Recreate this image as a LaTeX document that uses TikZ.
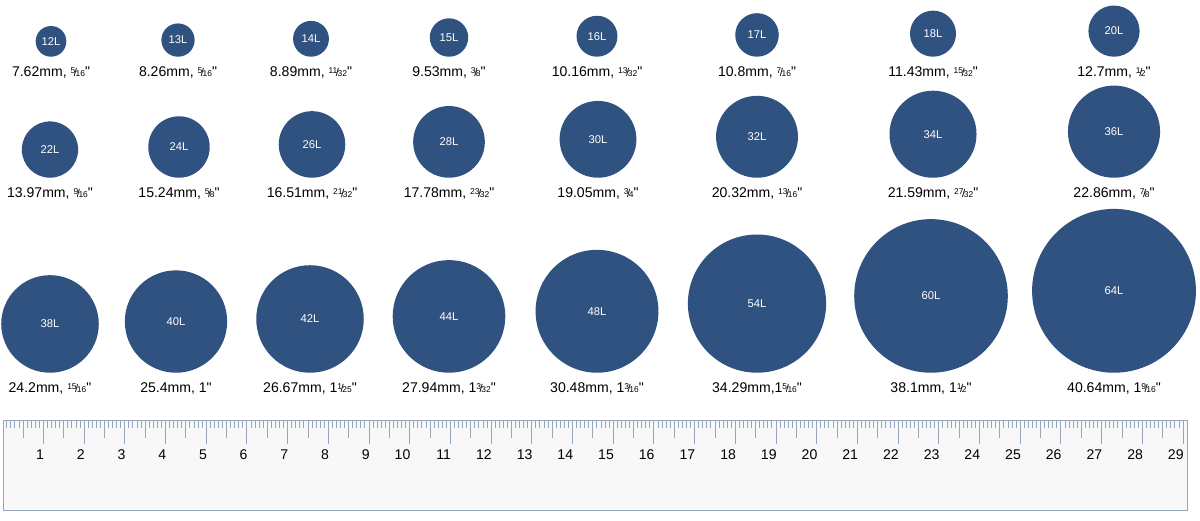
\documentclass[tikz,border=0pt]{standalone}
\usepackage{fontspec}
\setmainfont{Liberation Sans}
\usepackage{tikz}
\usetikzlibrary{positioning}
\usepackage{xcolor}
\definecolor{plugblue}{RGB}{48,82,128}
\definecolor{rulerline}{RGB}{150,166,188}
\definecolor{rulerfill}{RGB}{248,248,248}
\tikzstyle{plug} = [circle, fill=plugblue, text=white, inner sep=0pt, font=\fontsize{8}{9}\selectfont]
\tikzstyle{sizelabel} = [inner sep=1pt, font=\fontsize{10}{12}\selectfont]
\tikzstyle{tick} = [rulerline, line width=0.5pt]
\newcommand{\frc}[2]{\raisebox{0.5ex}{\fontsize{6}{6}\selectfont #1}\kern-.1em{\fontsize{8}{8}\selectfont /}\kern-.1em{\fontsize{6}{6}\selectfont #2}\textquotedbl}

\begin{document}
\begin{tikzpicture}[x=0.025cm, y=-0.025cm]
\fill[white] (0,0) rectangle (1200,520);
\useasboundingbox (0,0) rectangle (1200,520);
% top row of plugs
\foreach \x/\d/\g/\t in {51/7.62/12/{7.62mm, \frc{5}{16}}, 178/8.26/13/{8.26mm, \frc{5}{16}},
    311/8.89/14/{8.89mm, \frc{11}{32}}, 449/9.53/15/{9.53mm, \frc{3}{8}},
    597/10.16/16/{10.16mm, \frc{13}{32}}, 757/10.8/17/{10.8mm, \frc{7}{16}},
    933/11.43/18/{11.43mm, \frc{15}{32}}, 1114/12.7/20/{12.7mm, \frc{1}{2}}}
{
  \node[plug, minimum size=\d*1.0075mm, anchor=south] (p\g) at (\x,57) {\g L};
  \node[sizelabel, below=6pt of p\g] (l\g) {\t};
}
% middle row
\foreach \x/\d/\g/\t in {50/13.97/22/{13.97mm, \frc{9}{16}}, 179/15.24/24/{15.24mm, \frc{5}{8}},
    312/16.51/26/{16.51mm, \frc{21}{32}}, 449/17.78/28/{17.78mm, \frc{23}{32}},
    598/19.05/30/{19.05mm, \frc{3}{4}}, 757/20.32/32/{20.32mm, \frc{13}{16}},
    933/21.59/34/{21.59mm, \frc{27}{32}}, 1114/22.86/36/{22.86mm, \frc{7}{8}}}
{
  \node[plug, minimum size=\d*1.0075mm, anchor=south] (p\g) at (\x,178) {\g L};
  \node[sizelabel, below=6pt of p\g] (l\g) {\t};
}
% bottom row
\foreach \x/\d/\g/\t in {50/24.2/38/{24.2mm, \frc{15}{16}}, 176/25.4/40/{25.4mm, 1\textquotedbl},
    310/26.67/42/{26.67mm, 1\frc{1}{25}}, 449/27.94/44/{27.94mm, 1\frc{3}{32}},
    597/30.48/48/{30.48mm, 1\frc{3}{16}}, 757/34.29/54/{34.29mm,1\frc{5}{16}},
    931/38.1/60/{38.1mm, 1\frc{1}{2}}, 1114/40.64/64/{40.64mm, 1\frc{9}{16}}}
{
  \node[plug, minimum size=\d*1.0075mm, anchor=south] (p\g) at (\x,373) {\g L};
  \node[sizelabel, below=6pt of p\g] (l\g) {\t};
}
% ruler
\draw[rulerline, fill=rulerfill, line width=0.7pt] (3,420) rectangle (1187,510);
\foreach \m in {1,...,290}
  \draw[tick] ({2.6+4.07*\m},420) -- ++(0,8);
\foreach \c in {0,...,28}
  \draw[tick] ({2.6+40.7*\c+20.35},420) -- ++(0,18);
\foreach \c in {1,...,29}
{
  \draw[tick] ({2.6+40.7*\c},420) -- ++(0,24);
  \node[anchor=east, inner sep=0pt, font=\fontsize{10}{12}\selectfont] (n\c) at ({3.6+40.7*\c},455) {\c};
}
\end{tikzpicture}
\end{document}
